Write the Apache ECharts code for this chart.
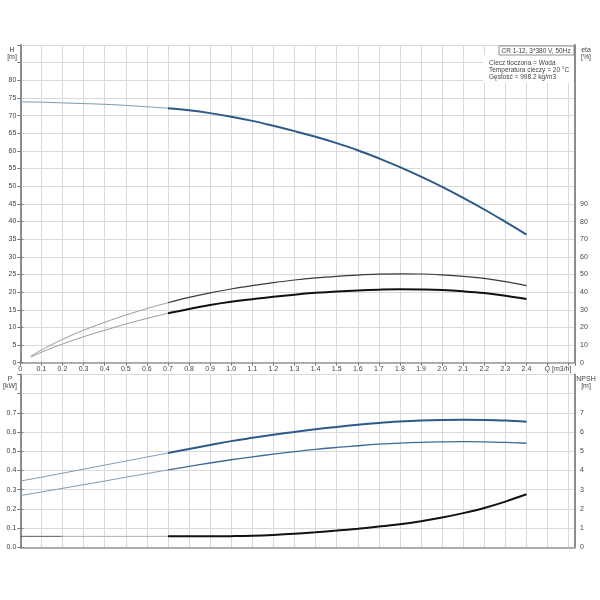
<!DOCTYPE html>
<html>
<head>
<meta charset="utf-8">
<script src="https://cdn.jsdelivr.net/npm/echarts@6/dist/echarts.min.js"></script>
<style>
html,body{margin:0;padding:0;background:#fff;}
#c{width:600px;height:600px;}
</style>
</head>
<body>
<div id="c"></div>
<script>
// ---- data ----
const Q = [0,0.1,0.2,0.3,0.4,0.5,0.6,0.7,0.8,0.9,1.0,1.1,1.2,1.3,1.4,1.5,1.6,1.7,1.8,1.9,2.0,2.1,2.2,2.3,2.4];
const H = [73.9,73.8,73.6,73.4,73.2,72.9,72.5,72.1,71.5,70.7,69.7,68.5,67.1,65.6,64.0,62.2,60.2,57.9,55.4,52.7,49.8,46.7,43.4,39.9,36.3];
const Qeta = [0.05,0.1,0.2,0.3,0.4,0.5,0.6,0.7,0.8,0.9,1.0,1.1,1.2,1.3,1.4,1.5,1.6,1.7,1.8,1.9,2.0,2.1,2.2,2.3,2.4];
const etaPump = [3.6,7.2,13.2,18.4,22.9,27.0,30.7,34.0,37.0,39.6,41.8,43.7,45.4,46.9,48.1,49.0,49.7,50.2,50.4,50.3,49.8,49.0,47.8,46.0,43.7];
const etaTotal = [3.2,5.9,10.6,14.7,18.4,21.9,25.1,28.0,30.5,32.7,34.5,36.0,37.4,38.6,39.6,40.4,41.0,41.4,41.6,41.5,41.2,40.5,39.5,38.0,36.1];
const P1 = [0.345,0.365,0.386,0.407,0.428,0.449,0.470,0.491,0.512,0.533,0.553,0.570,0.586,0.601,0.615,0.627,0.638,0.648,0.655,0.660,0.663,0.664,0.663,0.660,0.654];
const P2 = [0.269,0.288,0.307,0.326,0.345,0.365,0.384,0.403,0.421,0.439,0.456,0.471,0.485,0.498,0.510,0.520,0.529,0.537,0.543,0.547,0.549,0.550,0.549,0.546,0.542];
const NPSH = [0.57,0.57,0.57,0.57,0.57,0.57,0.57,0.57,0.57,0.57,0.58,0.60,0.64,0.70,0.78,0.87,0.97,1.08,1.20,1.36,1.55,1.78,2.05,2.38,2.76];
const infoTitle = 'CR 1-12, 3*380 V, 50Hz';
const infoLines = ['Ciecz tłoczona = Woda','Temperatura cieczy = 20 °C','Gęstość = 998.2 kg/m3'];

// ---- helpers ----
function seg(xs, ys, a, b){ const out=[]; for(let i=a;i<=b;i++) out.push([xs[i], ys[i]]); return out; }
const FONT = 'Liberation Sans';
const lab = {fontSize:7, color:'#444', fontFamily:FONT};
const gridLine = {show:true, lineStyle:{color:'#d9d9d9', width:1}};
const axLine = {show:true, lineStyle:{color:'#8c8c8c', width:2}};
const L = 20.3, R = 25;

function line(name, data, xi, yi, color, width, extra){
  return Object.assign({type:'line', name, data, xAxisIndex:xi, yAxisIndex:yi, smooth:0.4,
    showSymbol:false, symbol:'none', lineStyle:{color, width}, itemStyle:{color}, z:5}, extra||{});
}
const last = Q.length-1;

const chart = echarts.init(document.getElementById('c'), null, {renderer:'canvas'});
chart.setOption({
  animation:false,
  backgroundColor:'#fff',
  grid:[
    {left:L, right:R, top:45, height:317.7},
    {left:L, right:R, top:204, height:158.7},
    {left:L, right:R, top:374.5, height:172.8},
    {left:L, right:R, top:412.9, height:134.4}
  ],
  xAxis:[
    {type:'value', gridIndex:0, min:0, max:2.63, interval:0.1,
     axisLine:{show:true, lineStyle:{color:'#999', width:1.5}},
     axisTick:{show:true, length:3, lineStyle:{color:'#777'}},
     axisLabel:Object.assign({margin:3, formatter:v=> v>2.45 ? '' : (v===0?'0':v.toFixed(1))}, lab),
     splitLine:gridLine},
    {type:'value', gridIndex:1, min:0, max:2.63, show:false},
    {type:'value', gridIndex:2, min:0, max:2.63, interval:0.1,
     axisLine:{show:true, lineStyle:{color:'#999', width:1.5}},
     axisTick:{show:false}, axisLabel:{show:false}, splitLine:gridLine},
    {type:'value', gridIndex:3, min:0, max:2.63, show:false}
  ],
  yAxis:[
    {type:'value', gridIndex:0, min:0, max:90, interval:5, position:'left',
     axisLine:axLine, axisTick:{show:true, length:3, lineStyle:{color:'#777'}},
     axisLabel:Object.assign({margin:4, formatter:v=> v>80?'':String(v)}, lab), splitLine:gridLine},
    {type:'value', gridIndex:1, min:0, max:90, interval:10, position:'right',
     axisLine:axLine, axisTick:{show:true, length:3, lineStyle:{color:'#777'}},
     axisLabel:Object.assign({margin:5}, lab), splitLine:{show:false}},
    {type:'value', gridIndex:2, min:0, max:0.9, interval:0.1, position:'left',
     axisLine:axLine, axisTick:{show:true, length:3, lineStyle:{color:'#777'}},
     axisLabel:Object.assign({margin:4, formatter:v=> v>0.75?'':v.toFixed(1)}, lab), splitLine:gridLine},
    {type:'value', gridIndex:3, min:0, max:7, interval:1, position:'right',
     axisLine:axLine, axisTick:{show:true, length:3, lineStyle:{color:'#777'}},
     axisLabel:Object.assign({margin:5}, lab), splitLine:{show:false}},
    {type:'value', gridIndex:0, min:0, max:90, position:'right',
     axisLine:axLine, axisTick:{show:false}, axisLabel:{show:false}, splitLine:{show:false}},
    {type:'value', gridIndex:2, min:0, max:0.9, position:'right',
     axisLine:axLine, axisTick:{show:false}, axisLabel:{show:false}, splitLine:{show:false}}
  ],
  series:[
    line('H-low', seg(Q,H,0,7), 0, 0, '#7d98b6', 1),
    line('H', seg(Q,H,7,last), 0, 0, '#2d5a88', 2),
    line('eta-p-low', seg(Qeta,etaPump,0,7), 1, 1, '#9a9a9a', 1),
    line('eta-p', seg(Qeta,etaPump,7,last), 1, 1, '#3a3a3a', 1.2),
    line('eta-t-low', seg(Qeta,etaTotal,0,7), 1, 1, '#9a9a9a', 1),
    line('eta-t', seg(Qeta,etaTotal,7,last), 1, 1, '#111', 2),
    line('P1-low', seg(Q,P1,0,7), 2, 2, '#7d98b6', 1),
    line('P1', seg(Q,P1,7,last), 2, 2, '#2d5a88', 2, {
      label:{show:true, position:'top', distance:1, offset:[-3,0], fontSize:7, fontFamily:FONT, color:'#3a6ea5',
        formatter:p=> p.dataIndex===last-7 ? 'P1' : ''}}),
    line('P2-low', seg(Q,P2,0,7), 2, 2, '#7d98b6', 1),
    line('P2', seg(Q,P2,7,last), 2, 2, '#3e6a98', 1.3, {
      label:{show:true, position:'bottom', distance:1, offset:[-3,0], fontSize:7, fontFamily:FONT, color:'#3a6ea5',
        formatter:p=> p.dataIndex===last-7 ? 'P2' : ''}}),
    line('NPSH-a', seg(Q,NPSH,0,2), 3, 3, '#555', 1),
    line('NPSH-b', seg(Q,NPSH,2,7), 3, 3, '#aaa', 1),
    line('NPSH', seg(Q,NPSH,7,last), 3, 3, '#111', 2)
  ],
  graphic:[
    {type:'text', style:{x:12, y:50, text:'H', fontSize:7, fontFamily:FONT, fill:'#444', textAlign:'center', textVerticalAlign:'middle'}},
    {type:'text', style:{x:12, y:57.5, text:'[m]', fontSize:7, fontFamily:FONT, fill:'#444', textAlign:'center', textVerticalAlign:'middle'}},
    {type:'text', style:{x:586, y:50, text:'eta', fontSize:7, fontFamily:FONT, fill:'#444', textAlign:'center', textVerticalAlign:'middle'}},
    {type:'text', style:{x:586, y:57.5, text:'[%]', fontSize:7, fontFamily:FONT, fill:'#444', textAlign:'center', textVerticalAlign:'middle'}},
    {type:'text', style:{x:10, y:379, text:'P', fontSize:7, fontFamily:FONT, fill:'#444', textAlign:'center', textVerticalAlign:'middle'}},
    {type:'text', style:{x:10, y:386.5, text:'[kW]', fontSize:7, fontFamily:FONT, fill:'#444', textAlign:'center', textVerticalAlign:'middle'}},
    {type:'text', style:{x:586, y:379, text:'NPSH', fontSize:7, fontFamily:FONT, fill:'#444', textAlign:'center', textVerticalAlign:'middle'}},
    {type:'text', style:{x:586, y:386.5, text:'[m]', fontSize:7, fontFamily:FONT, fill:'#444', textAlign:'center', textVerticalAlign:'middle'}},
    {type:'text', style:{x:558, y:369.5, text:'Q [m3/h]', fontSize:7, fontFamily:FONT, fill:'#444', textAlign:'center', textVerticalAlign:'middle'}},
    {type:'rect', z:10, shape:{x:483, y:55, width:91, height:28}, style:{fill:'#fff'}},
    {type:'rect', z:11, shape:{x:499, y:46, width:75, height:9}, style:{fill:'#fff', stroke:'#777', lineWidth:0.8}},
    {type:'text', z:12, style:{x:501.5, y:50.8, text:infoTitle, fontSize:6.5, fontFamily:FONT, fill:'#444', textVerticalAlign:'middle'}},
    {type:'text', z:12, style:{x:489, y:63.3, text:infoLines[0], fontSize:6.5, fontFamily:FONT, fill:'#444', textVerticalAlign:'middle'}},
    {type:'text', z:12, style:{x:489, y:70.4, text:infoLines[1], fontSize:6.5, fontFamily:FONT, fill:'#444', textVerticalAlign:'middle'}},
    {type:'text', z:12, style:{x:489, y:77.6, text:infoLines[2], fontSize:6.5, fontFamily:FONT, fill:'#444', textVerticalAlign:'middle'}}
  ]
});
</script>
</body>
</html>
